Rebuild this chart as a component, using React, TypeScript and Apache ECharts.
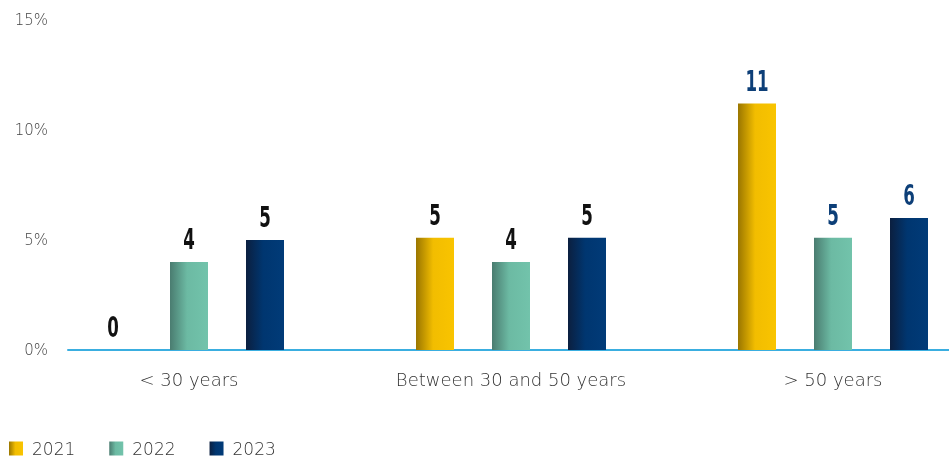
import React, { useEffect, useRef } from "react";
import * as echarts from "echarts";

const categories = ["< 30 years", "Between 30 and 50 years", "> 50 years"];
const seriesNames = ["2021", "2022", "2023"];
const values2021 = [0, 5.1, 11.2];
const values2022 = [4.0, 4.0, 5.1];
const values2023 = [5.0, 5.1, 6.0];
const yTicks = { min: 0, max: 15, interval: 5 };

const gradients = [
  ["#9a7600", "#f2bd00", "#f9c400"],
  ["#4a7c70", "#6cbaa3", "#72c3ab"],
  ["#0b1f3f", "#003670", "#013b78"],
];

const BAR_W = 38;

function grad(c: string[]) {
  return new echarts.graphic.LinearGradient(0, 0, 1, 0, [
    { offset: 0, color: c[0] },
    { offset: 0.45, color: c[1] },
    { offset: 1, color: c[2] },
  ]);
}

export default function App() {
  const ref = useRef<HTMLDivElement>(null);
  useEffect(() => {
    document.body.style.margin = "0";
    const chart = echarts.init(ref.current!, null, { renderer: "svg" });
    const all = [values2021, values2022, values2023];
    const labelFont = "'DejaVu Sans Condensed', 'DejaVu Sans', sans-serif";
    const axisFont = "'DejaVu Sans', sans-serif";
    const barSeries = all.map((vals, s) => ({
      name: seriesNames[s],
      type: "bar",
      xAxisIndex: 0,
      yAxisIndex: 0,
      barWidth: BAR_W,
      barGap: "100%",
      itemStyle: { color: grad(gradients[s]) },
      data: vals,
    }));
    const labelSeries = all.map((vals, s) => ({
      type: "custom",
      xAxisIndex: 0,
      yAxisIndex: 0,
      z: 5,
      silent: true,
      data: vals.map((v, i) => [i, v]),
      renderItem: (params: any, api: any) => {
        const i = api.value(0);
        const v = api.value(1);
        const pt = api.coord([i, v]);
        const off = (s - 1) * BAR_W * 2;
        return {
          type: "text",
          x: pt[0] + off,
          y: pt[1] - 8,
          scaleX: 0.66,
          style: {
            text: String(Math.round(v)),
            font: `bold 28px ${labelFont}`,
            fill: i === 2 ? "#0d3f78" : "#111111",
            align: "center",
            verticalAlign: "bottom",
          },
        };
      },
    }));
    const option = {
      animation: false,
      grid: [
        { left: 28, right: 0, top: 20, bottom: 107 },
        { left: 68, right: 45, top: 20, bottom: 107 },
      ],
      legend: {
        left: 4,
        top: 435,
        itemWidth: 14,
        itemHeight: 14,
        itemGap: 34,
        icon: "rect",
        data: seriesNames,
        textStyle: {
          fontFamily: axisFont,
          fontSize: 17,
          fontWeight: 300,
          color: "#333",
          padding: [0, 0, 0, 4],
        },
      },
      xAxis: [
        {
          type: "category",
          gridIndex: 0,
          data: categories,
          axisLine: { show: false },
          axisTick: { show: false },
          axisLabel: {
            margin: 20,
            fontFamily: axisFont,
            fontSize: 18,
            fontWeight: 300,
            color: "#333",
          },
        },
        {
          type: "value",
          gridIndex: 1,
          min: 0,
          max: 1,
          axisLine: { show: true, lineStyle: { color: "#3aaee0", width: 2 } },
          axisTick: { show: false },
          axisLabel: { show: false },
          splitLine: { show: false },
        },
      ],
      yAxis: [
        { type: "value", gridIndex: 0, ...yTicks, show: false, splitLine: { show: false } },
        {
          type: "value",
          gridIndex: 1,
          ...yTicks,
          axisLine: { show: false },
          axisTick: { show: false },
          splitLine: { show: false },
          axisLabel: {
            formatter: "{value}%",
            margin: 20,
            fontFamily: axisFont,
            fontSize: 15,
            fontWeight: 300,
            color: "#444",
          },
        },
      ],
      series: [...barSeries, ...labelSeries],
    };
    chart.setOption(option as any);
    return () => chart.dispose();
  }, []);
  return (
    <div
      ref={ref}
      style={{ position: "fixed", left: 0, top: 0, width: 994, height: 457 }}
    />
  );
}
